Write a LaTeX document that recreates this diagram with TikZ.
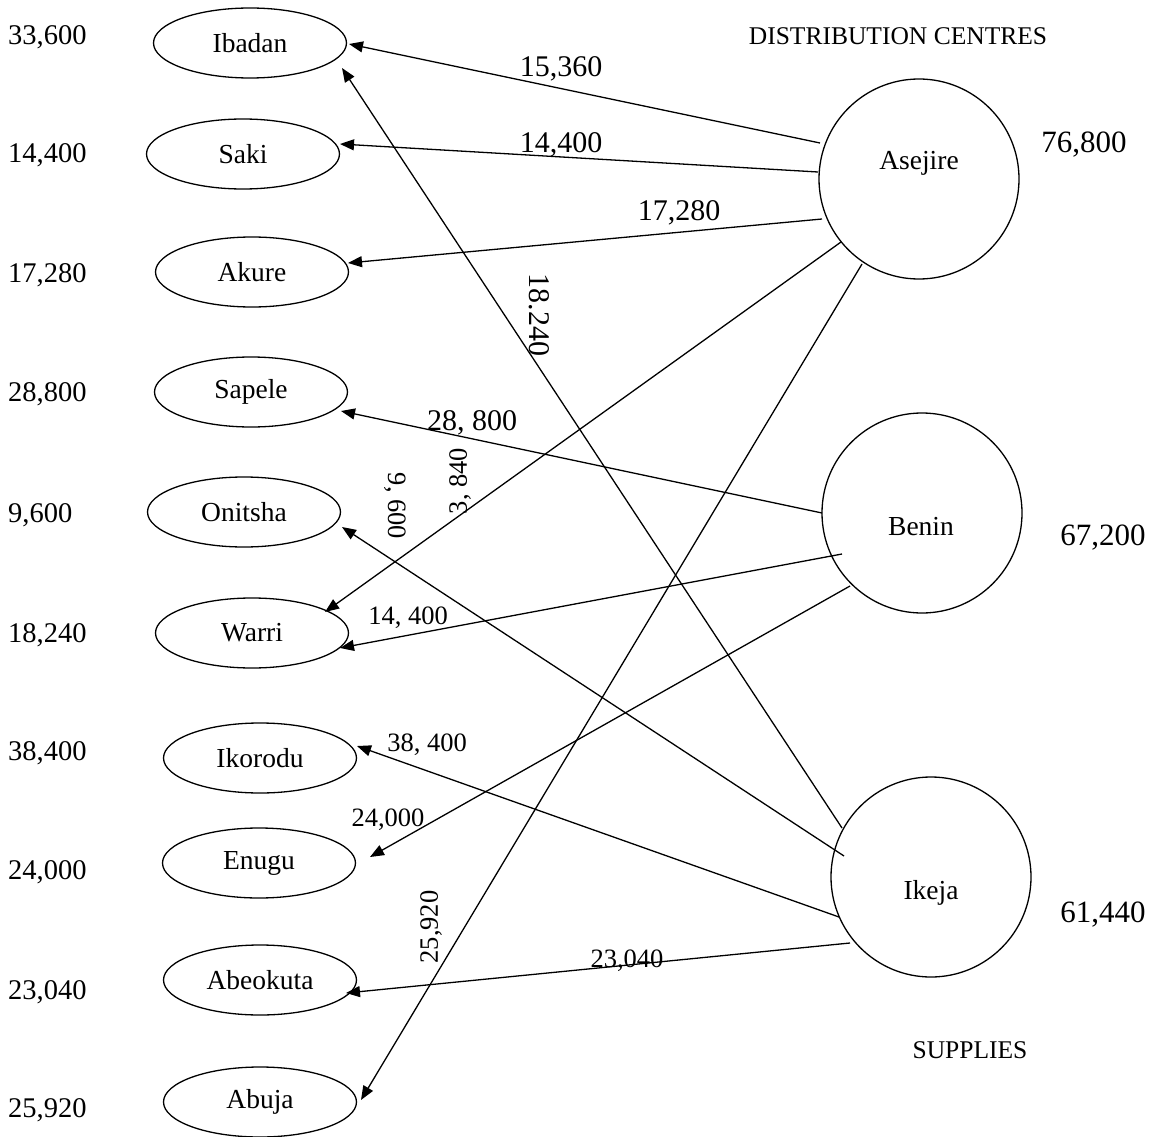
\documentclass[tikz,border=0pt]{standalone}
\usepackage{fontspec}
\setmainfont{Liberation Serif}
\usetikzlibrary{shapes.geometric,arrows.meta}
\begin{document}
\begin{tikzpicture}[x=1pt,y=-1pt,
  dest/.style={ellipse,draw,line width=1.3pt,minimum width=193pt,minimum height=70pt,inner sep=0pt,font=\fontsize{27.5}{30}\selectfont},
  src/.style={circle,draw,line width=1.3pt,minimum size=200pt,inner sep=0pt},
  srclab/.style={anchor=base,inner sep=0pt,font=\fontsize{27.5}{30}\selectfont},
  demand/.style={anchor=base west,inner sep=0pt,font=\fontsize{28.5}{31}\selectfont},
  supply/.style={inner sep=0pt,font=\fontsize{31}{34}\selectfont},
  title/.style={anchor=base,inner sep=0pt,font=\fontsize{25.5}{28}\selectfont},
  biglab/.style={inner sep=0pt,font=\fontsize{30}{33}\selectfont},
  smalllab/.style={inner sep=0pt,font=\fontsize{26.5}{29}\selectfont},
  arr/.style={line width=1.3pt,-{Triangle[length=14pt,width=11pt]}}
]
\useasboundingbox (0,0) rectangle (1157,1137);

% destination ellipses
\node[dest] (ibadan)   at (250,43)   {Ibadan};
\node[dest] (saki)     at (243,154)  {Saki};
\node[dest] (akure)    at (252,272)  {Akure};
\node[dest] (sapele)   at (251,392)  {Sapele};
\node[dest] (onitsha)  at (244,512)  {Onitsha};
\node[dest] (warri)    at (252,633)  {Warri};
\node[dest] (ikorodu)  at (260,758)  {Ikorodu};
\node[dest] (enugu)    at (259,863)  {Enugu};
\node[dest] (abeokuta) at (260,980)  {Abeokuta};
\node[dest] (abuja)    at (260,1102) {Abuja};

% demands
\node[demand] (d1)  at (8,45)   {33,600};
\node[demand] (d2)  at (8,163)  {14,400};
\node[demand] (d3)  at (8,282)  {17,280};
\node[demand] (d4)  at (8,401)  {28,800};
\node[demand] (d5)  at (8,522)  {9,600};
\node[demand] (d6)  at (8,642)  {18,240};
\node[demand] (d7)  at (8,760)  {38,400};
\node[demand] (d8)  at (8,879)  {24,000};
\node[demand] (d9)  at (8,999)  {23,040};
\node[demand] (d10) at (8,1117) {25,920};

% sources
\node[src] (asej)  at (919,179) {};
\node[src] (benin) at (922,513) {};
\node[src] (ikeja) at (931,877) {};
\node[srclab] (asejl)  at (919,170) {Asejire};
\node[srclab] (beninl) at (921,535) {Benin};
\node[srclab] (ikejal) at (931,899) {Ikeja};

% supplies
\node[supply] (s1) at (1084,145) {76,800};
\node[supply] (s2) at (1103,538) {67,200};
\node[supply] (s3) at (1103,915) {61,440};

% titles
\node[title] (t1) at (898,45)   {DISTRIBUTION CENTRES};
\node[title] (t2) at (970,1058) {SUPPLIES};

% connectors
\draw[arr] ([shift={(-99,-36)}]asej.center) -- ([shift={(99,1)}]ibadan.center);
\draw[arr] ([shift={(-101,-7)}]asej.center) -- ([shift={(97,-10)}]saki.center);
\draw[arr] ([shift={(-97,40)}]asej.center) -- ([shift={(96,-9)}]akure.center);
\draw[arr] ([shift={(-78,63)}]asej.center) -- ([shift={(73,-21)}]warri.center);
\draw[arr] ([shift={(-57,85)}]asej.center) -- ([shift={(101,-2)}]abuja.center);
\draw[arr] ([shift={(-100,0)}]benin.center) -- ([shift={(90,19)}]sapele.center);
\draw[arr] ([shift={(-80,41)}]benin.center) -- ([shift={(88,15)}]warri.center);
\draw[arr] ([shift={(-72,73)}]benin.center) -- ([shift={(111,-6)}]enugu.center);
\draw[arr] ([shift={(-89,-49)}]ikeja.center) -- ([shift={(92,25)}]ibadan.center);
\draw[arr] ([shift={(-87,-21)}]ikeja.center) -- ([shift={(98,15)}]onitsha.center);
\draw[arr] ([shift={(-92,40)}]ikeja.center) -- ([shift={(97,-12)}]ikorodu.center);
\draw[arr] ([shift={(-81,66)}]ikeja.center) -- ([shift={(86,13)}]abeokuta.center);

% connector labels
\node[biglab] (l1) at (561,69)  {15,360};
\node[biglab] (l2) at (561,145) {14,400};
\node[biglab] (l3) at (679,213) {17,280};
\node[biglab,rotate=-90] (l4) at (539,315) {18.240};
\node[biglab] (l5) at (472,423) {28, 800};
\node[smalllab,rotate=90] (l6) at (460,481) {3, 840};
\node[smalllab,rotate=-90] (l7) at (395,506) {9, 600};
\node[smalllab] (l8) at (408,618) {14, 400};
\node[smalllab] (l9) at (427,745) {38, 400};
\node[smalllab] (l10) at (388,820) {24,000};
\node[smalllab] (l11) at (627,961) {23,040};
\node[smalllab,rotate=90] (l12) at (431,927) {25,920};
\end{tikzpicture}
\end{document}
